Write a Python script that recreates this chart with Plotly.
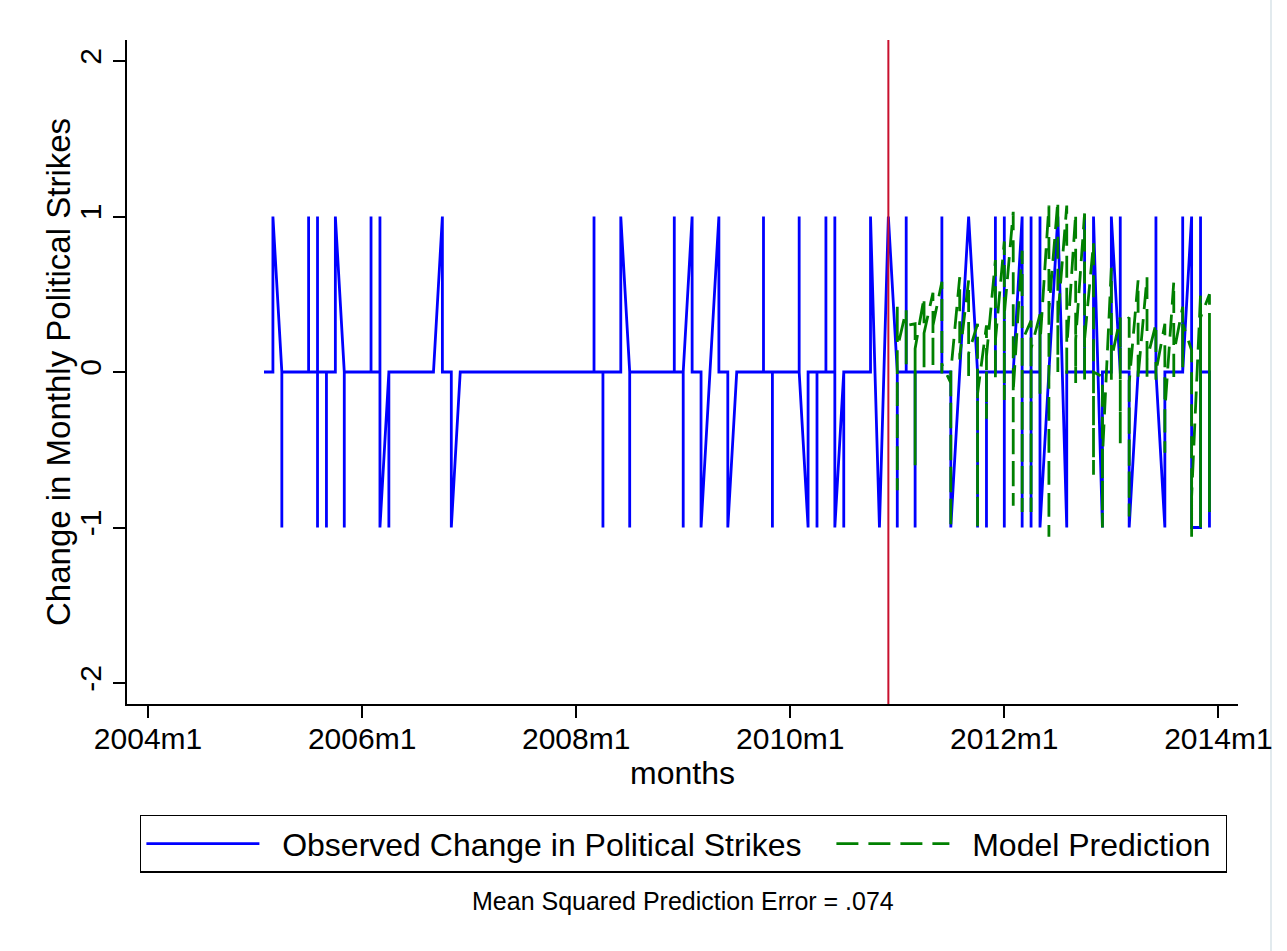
import plotly.graph_objects as go

# Monthly labels follow Stata's %tm style ("2005m2").
def tm(label):
    year, month = label.split("m")
    return (int(year) - 1960) * 12 + int(month) - 1

# Observed change in political strikes: one list per month (several records per month),
# starting at obs_start.
obs_start = "2005m2"
obs_values = [
    [0], [0, 1], [0, -1, 0], [0], [0], [0, 1, 0], [0, 1, -1, 0], [0, -1, 0],   # 2005m2-2005m9
    [0, 1], [0, -1, 0], [0], [0],                                              # 2005m10-2006m1
    [0, 1, 0], [0, 1, -1], [0, -1, 0], [0], [0], [0], [0], [0],                # 2006m2-2006m9
    [1, 0], [0, -1], [0],                                                      # 2006m10-2006m12
    [0], [0], [0], [0], [0], [0], [0], [0], [0], [0], [0], [0],                # 2007
    [0], [0], [0, 1, 0], [0, -1, 0], [0], [0, 1], [0, -1, 0], [0], [0], [0], [0], [0, 1, 0],  # 2008
    [0, -1, 0], [1, 0], [0, -1], [0], [1, 0], [0, -1], [0], [0], [0], [0, 1, 0], [0, -1, 0], [0],  # 2009
    [0], [0, 1, 0], [-1, 0], [0, -1, 0], [0, 1, 0], [0, 1, -1], [0, -1, 0], [0], [0], [0, 1], [-1], [1],  # 2010
    [0, -1, 0], [0, 1, 0], [0, -1, 0], [0], [0], [0, 1, 0], [0, -1], [0], [1], [0, -1, 0], [0, -1, 0], [0, 1, 0],  # 2011
    [0, 1, -1, 0], [0], [1, -1, 0], [0, 1, -1, 0], [0, 1, -1], [0], [1], [-1, 0], [0], [0, 1, 0], [0, 1], [-1, 0],  # 2012
    [0, 1], [0, 1, 0], [0, -1], [0], [0], [0, 1, 0], [-1, 0], [0], [0, 1, 0], [1, -1], [-1, 1, 0], [0, -1],  # 2013
]

# Out-of-sample model prediction, same layout, starting at pred_start.
pred_start = "2011m1"
pred_values = [
    [0.30, 0.42, -0.76, 0.15], [0.40, 0.05, 0.30], [0.31, -0.60, 0.15], [0.48, 0.03, 0.25],
    [0.51, 0.03, 0.30], [0.58, -0.01, 0.05], [-0.07, -1.00, 0.00], [0.61, 0.08, 0.10],
    [0.59, -0.05, 0.12], [0.31, -1.00, -0.14], [0.30, -0.30, 0.10], [0.72, -0.05, 0.20],
    [0.84, -0.18, 0.37], [1.03, -0.86, -0.12], [0.78, -0.90, 0.20], [0.33, -0.90, 0.15],
    [0.37, -0.14, 0.18], [1.07, -1.06, 0.40], [1.10, 0.00, 0.35], [1.07, -0.03, 0.15],
    [1.02, -0.07, 0.21], [1.02, -0.05, 0.21], [0.83, -0.66, 0.00], [-0.03, -1.00, -0.55],
    [0.67, -0.05, 0.08], [0.35, -0.46, 0.30], [0.35, -0.93, -0.07], [0.59, -0.05, -0.03],
    [0.61, -0.03, 0.08], [0.31, -0.05, 0.00], [0.31, -0.52, -0.25], [0.58, -0.06, 0.12],
    [0.42, 0.03, 0.31], [0.14, -1.06, -0.80], [0.50, -1.00, 0.35], [0.50, -0.90, 0.38],
]

break_month = "2010m12"
x_tick_labels = ["2004m1", "2006m1", "2008m1", "2010m1", "2012m1", "2014m1"]
y_tick_values = [-2, -1, 0, 1, 2]
mspe_text = "Mean Squared Prediction Error = .074"


def expand(start, per_month):
    xs, ys = [], []
    m0 = tm(start)
    for i, vals in enumerate(per_month):
        for v in vals:
            xs.append(m0 + i)
            ys.append(v)
    return xs, ys


obs_x, obs_y = expand(obs_start, obs_values)
pred_x, pred_y = expand(pred_start, pred_values)

FONT = "Liberation Sans, Arial, Helvetica, sans-serif"
NBSP = "\u00a0"

fig = go.Figure()
fig.add_trace(go.Scatter(
    x=obs_x, y=obs_y, mode="lines", name=NBSP * 2 + "Observed Change in Political Strikes",
    line=dict(color="#0000ff", width=2.8), legendwidth=562,
))
fig.add_trace(go.Scatter(
    x=pred_x, y=pred_y, mode="lines", name=NBSP * 2 + "Model Prediction",
    line=dict(color="#008000", width=2.8, dash="22px,10px"), legendwidth=266,
))

# Vertical marker at the start of the prediction window
fig.add_shape(type="line", xref="x", yref="paper",
              x0=tm(break_month), x1=tm(break_month), y0=0, y1=1,
              line=dict(color="#c8102e", width=2))

# Thin outer edge of the graph region on the right
fig.add_shape(type="line", xref="paper", yref="paper", layer="below",
              x0=(1271 - 127) / 1111, x1=(1271 - 127) / 1111, y0=-247 / 664, y1=1 + 40 / 664,
              line=dict(color="#e2eaee", width=2))

fig.add_annotation(text=mspe_text, xref="paper", yref="paper", x=0.5, y=-0.297,
                   xanchor="center", yanchor="middle",
                   showarrow=False, font=dict(family=FONT, size=25, color="black"))

fig.add_annotation(text="Change in Monthly Political Strikes", xref="paper", yref="paper",
                   x=-0.0621, y=0.5, xanchor="center", yanchor="middle", textangle=-90,
                   showarrow=False, font=dict(family=FONT, size=33, color="black"))

fig.update_layout(
    width=1287, height=951, autosize=False,
    paper_bgcolor="white", plot_bgcolor="white",
    margin=dict(l=127, r=49, t=40, b=247),
    font=dict(family=FONT, color="black"),
    showlegend=True,
    legend=dict(
        orientation="h", x=0.0117, xanchor="left", y=-0.167, yanchor="top",
        bordercolor="black", borderwidth=1.4, font=dict(size=32, family=FONT),
        itemwidth=113, bgcolor="white",
    ),
    xaxis=dict(
        range=[tm("2004m1") - 2.36, tm("2004m1") + 122.2],
        tickvals=[tm(t) for t in x_tick_labels], ticktext=x_tick_labels,
        showline=True, linecolor="black", linewidth=1.5,
        ticks="outside", ticklen=12, tickwidth=1.5, tickcolor="black",
        showgrid=False, zeroline=False, ticklabelstandoff=-5,
        tickfont=dict(size=30, family=FONT),
        title=dict(text="months", font=dict(size=32, family=FONT), standoff=4),
    ),
    yaxis=dict(
        range=[-2.135, 2.135],
        tickvals=y_tick_values, ticktext=[str(v) for v in y_tick_values],
        tickangle=-90,
        showline=True, linecolor="black", linewidth=1.5,
        ticks="outside", ticklen=12, tickwidth=1.5, tickcolor="black",
        showgrid=False, zeroline=False,
        tickfont=dict(size=30, family=FONT),
    ),
)

fig.write_html("out.html")
